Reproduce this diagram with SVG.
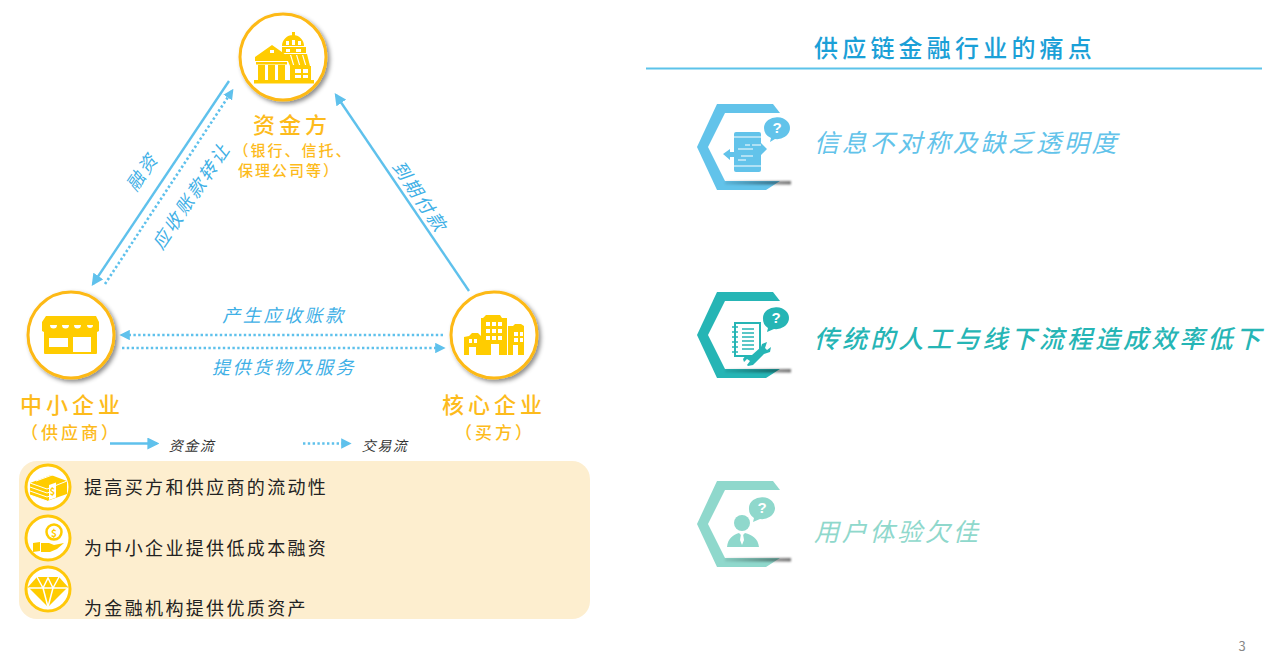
<svg xmlns="http://www.w3.org/2000/svg" width="1270" height="652" viewBox="0 0 1270 652">
<style>
text{font-family:"Noto Sans CJK SC","Noto Sans",sans-serif;text-anchor:middle;dominant-baseline:central}
.y{fill:#fdbb1c;font-weight:500}
.big{font-size:22px;letter-spacing:4px}
.sub{font-size:15px;letter-spacing:2px}
.sub2{font-size:17px;letter-spacing:3px}
.lb{fill:#3fb0e6;font-size:18px;font-style:italic;letter-spacing:2.6px}
.k{fill:#222;font-size:18px;letter-spacing:2.35px;text-anchor:start}
.leg{fill:#333;font-size:14px;font-style:italic;letter-spacing:1.5px}
.ring{fill:#fff;stroke:#fdb913;stroke-width:3;filter:url(#sh)}
.ring2{fill:#fff;stroke:#ffc80a;stroke-width:3}
.ic{fill:#ffcc00}
.s{fill:none;stroke:#5fc1ec;stroke-width:2.4}
.d{fill:none;stroke:#5fc1ec;stroke-width:2.6;stroke-dasharray:2.4 2.4}
.pt{font-size:25px;font-style:italic;letter-spacing:2.75px;text-anchor:start}
.q{font-size:15px;font-weight:700;fill:#fff;font-family:"Liberation Sans",sans-serif}
</style>
<defs>
<filter id="sh" x="-20%" y="-20%" width="150%" height="150%"><feDropShadow dx="2.5" dy="2.5" stdDeviation="2" flood-color="#000" flood-opacity=".45"/></filter>
<filter id="bl" x="-5%" y="-100%" width="110%" height="300%"><feGaussianBlur stdDeviation="0.9"/></filter>
<linearGradient id="fade" x1="0" x2="1" y1="0" y2="0"><stop offset="0" stop-color="#000" stop-opacity=".08"/><stop offset="1" stop-color="#000" stop-opacity=".55"/></linearGradient>
<marker id="a" markerWidth="5" markerHeight="5" refX="4" refY="2.5" orient="auto" markerUnits="strokeWidth"><path d="M0 0L5 2.5L0 5z" fill="#5fc1ec"/></marker>
<marker id="b" markerWidth="4" markerHeight="4" refX="3" refY="2" orient="auto" markerUnits="strokeWidth"><path d="M0 0L4 2L0 4z" fill="#5fc1ec"/></marker>
</defs>
<rect width="1270" height="652" fill="#fff"/>
<g id="connectors">
<path class="s" d="M229 81L93 284" marker-end="url(#a)"/>
<path class="d" d="M105 284L232 91" marker-end="url(#b)"/>
<path class="s" d="M469 291L336 95" marker-end="url(#a)"/>
<path class="d" d="M443 335L122 335" marker-end="url(#b)"/>
<path class="d" d="M122 348L443 348" marker-end="url(#b)"/>
</g>
<g id="connector-labels">
<text class="lb" transform="translate(141 171) rotate(-56)">融资</text>
<text class="lb" transform="translate(190 195) rotate(-56)">应收账款转让</text>
<text class="lb" transform="translate(421 196) rotate(56)">到期付款</text>
<text class="lb" x="284" y="314">产生应收账款</text>
<text class="lb" x="284" y="366">提供货物及服务</text>
</g>
<g id="node-bank">
<circle class="ring" cx="283" cy="57" r="43"/>
<path class="ic" d="M254 80h60v3.500h-60zM255 57L272 45L289 57V61H255zM256 62h31v2.500h-31zM258 65h7v15h-7zM268 65h7v15h-7zM278 65h7v15h-7z"/>
<path class="ic" d="M282 46a11 11 0 0 1 22 0zM292 32h3v4h-3zM282 47h24v6h-24zM285 54h22l3 12h-20zM290 66h21v14h-21z"/>
<path fill="#fff" d="M270 50h4v3h-4zM286 41h3v4h-3zM292 40h3v5h-3zM298 41h3v4h-3zM286 49h4v3h-4zM296 49h5v3h-5zM290 55l3 10h1.200l-3-10zM296 55l3 10h1.200l-3-10zM302 55l3 10h1.200l-3-10zM295 69h6v4h-6zM303 69h5v4h-5zM295 75h6v3h-6zM303 75h5v3h-5z"/>
<text class="y big" x="292" y="123">资金方</text>
<text class="y sub" x="293" y="149">（银行、信托、</text>
<text class="y sub" x="289" y="169">保理公司等）</text>
</g>
<g id="node-sme">
<circle class="ring" cx="71" cy="335" r="43"/>
<path class="ic" d="M46 316h50l3 6v9l-2 1v21a1 1 0 0 1-1 1H45a1 1 0 0 1-1-1V332l-2-1v-9z"/>
<path fill="#fff" d="M49 338h19v9H49zM73 337h18v15H73zM50 325h7a3.500 3.500 0 0 1-7 0zM62 325h7a3.500 3.500 0 0 1-7 0zM74 325h7a3.500 3.500 0 0 1-7 0zM87 325h6a3 3 0 0 1-6 0z"/>
<text class="y big" x="72" y="403">中小企业</text>
<text class="y sub2" x="71" y="431">（供应商）</text>
</g>
<g id="node-core">
<circle class="ring" cx="494" cy="335" r="43"/>
<path class="ic" d="M464 337l5-1 3-3h6l3 3v19h-5v-8h-7v8h-5zM481 318h2l3-3h14l2 3h5v37h-8v-11h-8v11h-10zM508 326h5l2-2h6l3 2v29h-6v-10h-5v10h-5z"/>
<path fill="#fff" d="M486 322h4v4h-4zM492 322h4v4h-4zM498 322h4v4h-4zM486 329h4v4h-4zM492 329h4v4h-4zM498 329h4v4h-4zM486 336h4v4h-4zM492 336h4v4h-4zM498 336h4v4h-4zM469 339h3v4h-3zM474 339h3v4h-3zM514 332h4v4h-4zM520 332h3v4h-3zM514 338h4v4h-4zM520 338h3v4h-3z"/>
<text class="y big" x="494" y="403">核心企业</text>
<text class="y sub2" x="495" y="431">（买方）</text>
</g>
<g id="legend">
<path class="s" d="M110 443.500L157 443.500" marker-end="url(#a)"/>
<text class="leg" x="192" y="445">资金流</text>
<path class="d" d="M303 443.500L349 443.500" marker-end="url(#b)"/>
<text class="leg" x="385" y="445">交易流</text>
</g>
<g id="benefits">
<rect x="19" y="461" width="571" height="158" rx="18" fill="#fdeecf"/>
<g id="benefit-1">
<circle class="ring2" cx="48" cy="487" r="22"/>
<path class="ic" d="M30 483l21-8 16 6v13l-20 7-17-6z"/>
<path fill="none" stroke="#fff" stroke-width="1" d="M30 483l17 6 20-8M30 487l17 6 9-3M30 491l17 6 9-3M30 495l17 6M36 481l19-7"/>
<path fill="#fff" d="M49 485l7-2.500v15l-7 2.500z"/>
<text x="52.500" y="491" font-size="9" font-weight="700" fill="#ffcc00" font-family="Liberation Sans,sans-serif">$</text>
<text class="k" x="84" y="486">提高买方和供应商的流动性</text>
</g>
<g id="benefit-2">
<circle class="ring2" cx="48" cy="538" r="22"/>
<circle fill="#fff" stroke="#ffcc00" stroke-width="2.500" cx="54" cy="532" r="7.500"/>
<text x="54" y="532" font-size="10" font-weight="700" fill="#ffcc00" font-family="Liberation Sans,sans-serif">$</text>
<path class="ic" d="M33 543l7-1v9l-7 1zM41 543h8l5 2 10-2-7 6-7 3h-9z"/>
<text class="k" x="84" y="547">为中小企业提供低成本融资</text>
</g>
<g id="benefit-3">
<circle class="ring2" cx="48" cy="589" r="22"/>
<path class="ic" d="M37 577h22l9 10-20 20-20-20z"/>
<path fill="none" stroke="#fff" stroke-width="1.500" d="M29 588h38M37 577l6 11 5-10 5 10 6-11M43 588l5 19 5-19"/>
<text class="k" x="84" y="607">为金融机构提供优质资产</text>
</g>
</g>
<g id="header">
<text x="955" y="46" font-size="24" fill="#1ba0d7" font-weight="500" letter-spacing="4.200">供应链金融行业的痛点</text>
<path d="M646 68.500H1262" stroke="#5cc3ea" stroke-width="2.200" fill="none"/>
</g>
<g id="point-1">
<path fill="#62c3ea" d="M717 104H773L780 113V181L766 190H717L697 147z"/>
<path fill="#fff" d="M725 113H800V181H725L708 147z"/>
<rect x="725" y="181" width="66" height="3.500" fill="url(#fade)" filter="url(#bl)"/>
<path fill="#62c3ea" d="M734 134a2 2 0 0 1 2-2h23a2 2 0 0 1 2 2v36a2 2 0 0 1-2 2H736a2 2 0 0 1-2-2zM761 143l6 6-6 6zM723 154l7-5v3h4v5h-4v3z"/>
<path fill="#62c3ea" d="M764 128a13 11 0 1 1 11 11l-5 3 1-4a11 11 0 0 1-7-10z"/>
<path stroke="#fff" stroke-width="1" fill="none" d="M734 137h27M734 166h27M745 145h5M752 145h9M738 149h15M741 156h12M738 160h8"/>
<text class="q" x="777" y="127">?</text>
<text class="pt" x="814" y="141" fill="#62c3ea">信息不对称及缺乏透明度</text>
</g>
<g id="point-2">
<path fill="#26b5b5" d="M717 292H773L780 301V369L766 378H717L697 335z"/>
<path fill="#fff" d="M725 301H800V369H725L708 335z"/>
<rect x="725" y="369" width="66" height="3.500" fill="url(#fade)" filter="url(#bl)"/>
<path fill="none" stroke="#26b5b5" stroke-width="2" d="M735 323h25v33h-25z"/>
<path stroke="#26b5b5" stroke-width="1.500" fill="none" d="M732 327h6M732 332h6M732 337h6M732 342h6M732 347h6M732 352h6M742 329h12M742 333h12M742 337h12M742 341h12M742 345h12M742 349h12"/>
<path fill="#26b5b5" d="M762 344l5-2-2 6 2 2 4-3-1 5-6 2-9 9-2 2-5 1-1-1 3-4-3-2-3 3-1-3 3-4h6l9-8z"/>
<path fill="#26b5b5" d="M763 318a13 11 0 1 1 11 11l-7 3 1-4a11 11 0 0 1-5-10z"/>
<text class="q" x="776" y="317">?</text>
<text class="pt" x="814" y="337" fill="#26b5b5" font-weight="500" style="letter-spacing:3.100px">传统的人工与线下流程造成效率低下</text>
</g>
<g id="point-3">
<path fill="#8fd8cc" d="M717 481H773L780 490V558L766 567H717L697 524z"/>
<path fill="#fff" d="M725 490H800V558H725L708 524z"/>
<rect x="725" y="558" width="66" height="3.500" fill="url(#fade)" filter="url(#bl)"/>
<circle cx="742" cy="523" r="8" fill="#8fd8cc"/>
<path fill="#8fd8cc" d="M727 547c1-9 6-12 12-14l3 3 3-3c7 2 13 5 14 14z"/>
<path fill="#fff" d="M741 534h2l1 6-2 5-2-5z"/>
<path fill="#8fd8cc" d="M749 508a13 11 0 1 1 11 11l-7 3 1-4a11 11 0 0 1-5-10z"/>
<text class="q" x="762" y="507">?</text>
<text class="pt" x="814" y="530" fill="#8fd8cc">用户体验欠佳</text>
</g>
<text x="1242" y="645" font-size="13" fill="#888" font-family="Liberation Sans, sans-serif">3</text>
</svg>
